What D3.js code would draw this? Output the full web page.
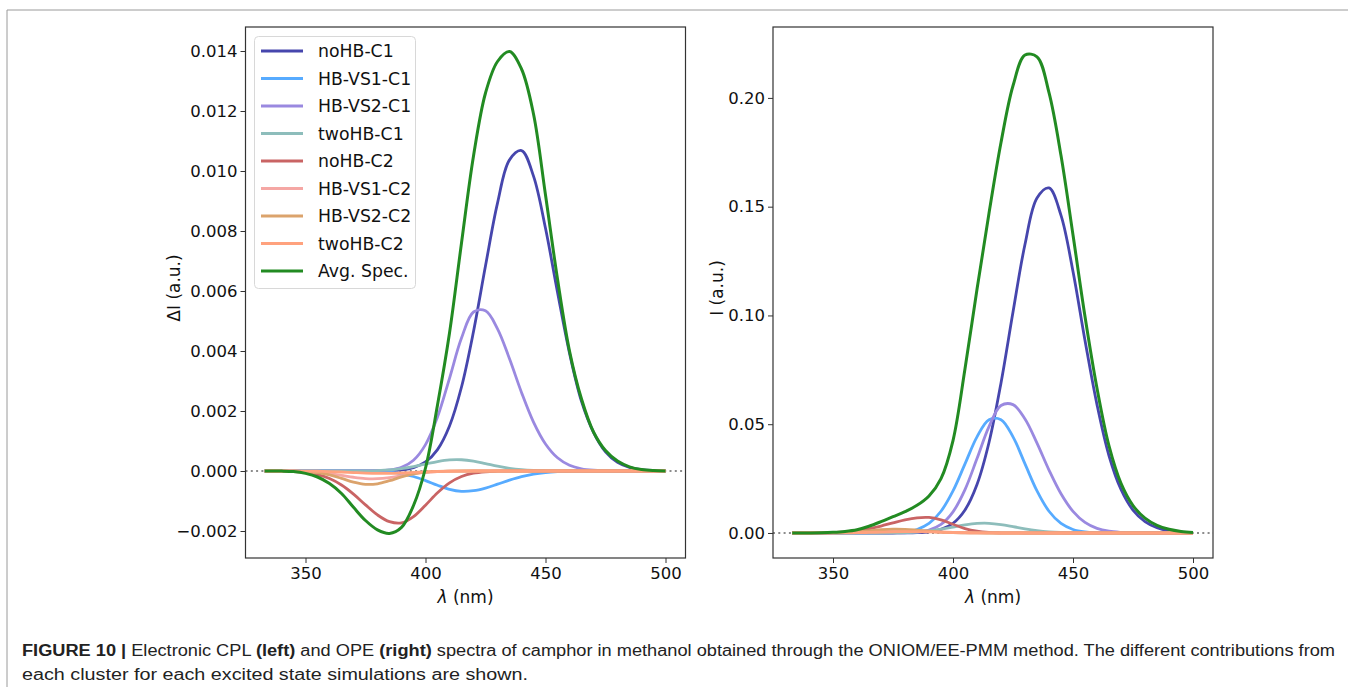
<!DOCTYPE html>
<html>
<head>
  <meta charset="UTF-8">
  <title>CPL and OPE spectra of camphor</title>
  <style>
    body{
        margin: 0;
        background-color: #fff;
    }
    text{
        font-family: "DejaVu Sans", sans-serif;
    }
    .caption text{
        font-family: "Liberation Sans", Arial, sans-serif;
    }
  </style>
</head>
<body>
<svg></svg>
<script src="https://d3js.org/d3.v7.min.js"></script>

<script>

let width = 1348, height = 687;

// wavelength grid (nm)
const wavelength = [333, 340, 345, 350, 355, 360, 365, 370, 375, 380, 385, 390, 395, 400, 405, 410,
    415, 420, 425, 430, 435, 440, 445, 450, 455, 460, 465, 470, 475, 480, 485, 490, 495, 500];

const seriesNames = ["noHB-C1", "HB-VS1-C1", "HB-VS2-C1", "twoHB-C1", "noHB-C2",
    "HB-VS1-C2", "HB-VS2-C2", "twoHB-C2", "Avg. Spec."];
const seriesColors = ["#4646ad", "#57abff", "#9a89e0", "#8dbdbb", "#c96464",
    "#f5a7a4", "#dba36c", "#ffa27e", "#228b22"];

// CPL (left panel), Delta I
const cplNoHBC1 = [0, 0, 0, 0, 0, 0, 0, 0, 0, 0.000003, 0.000011, 0.000038, 0.000113, 0.000301, 0.000714, 0.0015,
    0.0028, 0.00465, 0.00684, 0.00893, 0.01037, 0.01068, 0.00983, 0.00809, 0.00596, 0.00393, 0.00232, 0.00129, 0.00064, 0.00029, 0.00012, 0.000043, 0.000014, 0.000004];
const cplHBVS1C1 = [0, 0, 0, 0, 0, 0, 0, 0, -0.000004, -0.000015, -0.00004, -0.000092, -0.000184, -0.000319, -0.000475, -0.000611,
    -0.000678, -0.000656, -0.000568, -0.00044, -0.000305, -0.000189, -0.000105, -0.000052, -0.000023, -0.000009, -0.000003, 0, 0, 0, 0, 0, 0, 0];
const cplHBVS2C1 = [0, 0, 0, 0, 0, 0, 0, 0, 0.000002, 0.000008, 0.000035, 0.000122, 0.000359, 0.00088, 0.0018, 0.00309,
    0.00443, 0.0053, 0.00534, 0.00474, 0.00374, 0.00262, 0.00163, 0.0009, 0.00044, 0.00019, 0.000074, 0.000025, 0.000008, 0, 0, 0, 0, 0];
const cplTwoHBC1 = [0, 0, 0, 0, 0, 0, 0, 0, 0.000005, 0.000015, 0.000037, 0.00008, 0.000146, 0.00023, 0.000314, 0.00037,
    0.000375, 0.000329, 0.000248, 0.000162, 0.000091, 0.000044, 0.000018, 0.000007, 0.000002, 0, 0, 0, 0, 0, 0, 0, 0, 0];
const cplNoHBC2 = [0, -0.000006, -0.000019, -0.000051, -0.000121, -0.000252, -0.000468, -0.000771, -0.00113, -0.001465, -0.00169, -0.00173, -0.00152, -0.00114, -0.000728, -0.000396,
    -0.000184, -0.000073, -0.000025, -0.000007, 0, 0, 0, 0, 0, 0, 0, 0, 0, 0, 0, 0, 0, 0];
const cplHBVS1C2 = [0, -0.000002, -0.000006, -0.000017, -0.000041, -0.000084, -0.000145, -0.000208, -0.000252, -0.000256, -0.000219, -0.000158, -0.000096, -0.000048, -0.000021, -0.000007,
    -0.000002, 0, 0, 0, 0, 0, 0, 0, 0, 0, 0, 0, 0, 0, 0, 0, 0, 0];
const cplHBVS2C2 = [0, -0.000001, -0.000005, -0.000019, -0.000055, -0.000131, -0.000247, -0.000372, -0.000445, -0.000426, -0.000324, -0.000197, -0.000095, -0.000037, -0.000011, -0.000003,
    0, 0, 0, 0, 0, 0, 0, 0, 0, 0, 0, 0, 0, 0, 0, 0, 0, 0];
const cplTwoHBC2 = [0, 0, 0, -0.000004, -0.000009, -0.000019, -0.000034, -0.000052, -0.000069, -0.000079, -0.000078, -0.000066, -0.000049, -0.000031, -0.000017, -0.000008,
    -0.000003, 0, 0, 0, 0, 0, 0, 0, 0, 0, 0, 0, 0, 0, 0, 0, 0, 0];
const cplAvg = [0, -0.000003, -0.00002, -0.00008, -0.0002, -0.00042, -0.00075, -0.00121, -0.00165, -0.00196, -0.00208, -0.00188, -0.00115, 0.0001, 0.0022, 0.0046,
    0.0076, 0.0105, 0.0126, 0.01365, 0.01398, 0.0134, 0.0119, 0.0092, 0.0064, 0.004, 0.0024, 0.0013, 0.00068, 0.00033, 0.00014, 0.00005, 0.000015, 0.000004];

// OPE (right panel), I
const opeNoHBC1 = [0, 0, 0, 0, 0, 0, 0, 0, 0, 0.00004, 0.00017, 0.00056, 0.00168, 0.00447, 0.0106, 0.0223,
    0.0416, 0.069, 0.1016, 0.1327, 0.154, 0.1586, 0.146, 0.1202, 0.0885, 0.059, 0.0355, 0.02, 0.0105, 0.0052, 0.0024, 0.001, 0.0004, 0.00015];
const opeHBVS1C1 = [0, 0, 0, 0, 0, 0, 0, 0.00003, 0.00014, 0.00051, 0.00162, 0.00437, 0.00999, 0.01934, 0.03176, 0.04417,
    0.0521, 0.0521, 0.04417, 0.03176, 0.01934, 0.00999, 0.00437, 0.00162, 0.00051, 0.00014, 0.00003, 0, 0, 0, 0, 0, 0, 0];
const opeHBVS2C1 = [0, 0, 0, 0, 0, 0, 0, 0, 0.00002, 0.00009, 0.00038, 0.00135, 0.00397, 0.00973, 0.01995, 0.0342,
    0.0489, 0.0586, 0.059, 0.0524, 0.0413, 0.0289, 0.018, 0.00992, 0.00486, 0.00211, 0.00081, 0.00028, 0.00009, 0.00002, 0, 0, 0, 0];
const opeTwoHBC1 = [0, 0, 0, 0, 0, 0, 0, 0, 0.00006, 0.00018, 0.00044, 0.00094, 0.00172, 0.00273, 0.00372, 0.00438,
    0.00445, 0.00389, 0.00294, 0.00191, 0.00108, 0.00052, 0.00022, 0.00008, 0.00002, 0, 0, 0, 0, 0, 0, 0, 0, 0];
const opeNoHBC2 = [0, 0.00003, 0.00008, 0.00021, 0.0005, 0.00104, 0.00194, 0.00319, 0.00467, 0.00606, 0.00699, 0.00715, 0.006, 0.004, 0.002, 0.0008,
    0.00025, 0.00008, 0.00002, 0, 0, 0, 0, 0, 0, 0, 0, 0, 0, 0, 0, 0, 0, 0];
const opeHBVS1C2 = [0, 0.00001, 0.00002, 0.00008, 0.00019, 0.00039, 0.00067, 0.00096, 0.00116, 0.00118, 0.00101, 0.00073, 0.00044, 0.00022, 0.0001, 0.00003,
    0.00001, 0, 0, 0, 0, 0, 0, 0, 0, 0, 0, 0, 0, 0, 0, 0, 0, 0];
const opeHBVS2C2 = [0, 0, 0.00002, 0.000075, 0.00022, 0.00052, 0.00099, 0.00149, 0.00178, 0.0017, 0.0013, 0.00079, 0.00038, 0.00015, 0.00005, 0.00001,
    0, 0, 0, 0, 0, 0, 0, 0, 0, 0, 0, 0, 0, 0, 0, 0, 0, 0];
const opeTwoHBC2 = [0, 0, 0.00001, 0.00003, 0.00007, 0.00014, 0.00026, 0.00039, 0.00052, 0.00059, 0.00058, 0.0005, 0.00036, 0.00023, 0.00013, 0.00006,
    0.00002, 0, 0, 0, 0, 0, 0, 0, 0, 0, 0, 0, 0, 0, 0, 0, 0, 0];
const opeAvg = [0, 0.00003, 0.0001, 0.0003, 0.0007, 0.0015, 0.0031, 0.0052, 0.0075, 0.0098, 0.0127, 0.017, 0.025, 0.0425, 0.0755, 0.112,
    0.147, 0.1795, 0.2056, 0.2197, 0.2189, 0.2024, 0.1735, 0.137, 0.0995, 0.0665, 0.040, 0.0228, 0.0126, 0.0068, 0.0035, 0.0017, 0.0007, 0.0002];

const xTicks = [350, 400, 450, 500];
const cplTicks = [-0.002, 0, 0.002, 0.004, 0.006, 0.008, 0.010, 0.012, 0.014];
const opeTicks = [0, 0.05, 0.10, 0.15, 0.20];

const captionLine1 = ["FIGURE 10 | ", "Electronic CPL ", "(left)", " and OPE ", "(right)",
    " spectra of camphor in methanol obtained through the ONIOM/EE-PMM method. The different contributions from"];
const captionLine2 = "each cluster for each excited state simulations are shown.";

let svg = d3.select("svg")
    .attr("width", width)
    .attr("height", height)
    .attr("viewBox", "0 0 " + width + " " + height);

// page frame lines
svg.append("line").attr("x1", 7).attr("y1", 10).attr("x2", width).attr("y2", 10)
    .attr("stroke", "#9a9a9a").attr("stroke-width", 1);
svg.append("line").attr("x1", 7).attr("y1", 10).attr("x2", 7).attr("y2", height)
    .attr("stroke", "#9a9a9a").attr("stroke-width", 1);

function drawPanel(opts) {
    let x = d3.scaleLinear().domain([325, 508.33]).range(opts.xRange);
    let y = d3.scaleLinear().domain(opts.yDomain).range([558, 27]);

    let g = svg.append("g");

    // dotted zero line
    g.append("line")
        .attr("x1", x.range()[0]).attr("x2", x.range()[1])
        .attr("y1", y(0)).attr("y2", y(0))
        .attr("stroke", "#8c8c8c")
        .attr("stroke-width", 2)
        .attr("stroke-dasharray", "2,3.3");

    let line = d3.line()
        .x((d, i) => x(wavelength[i]))
        .y(d => y(d))
        .curve(d3.curveCatmullRom.alpha(0.5));

    g.selectAll("path.spec")
        .data(opts.series)
        .enter()
        .append("path")
        .attr("class", "spec")
        .attr("d", d => line(d))
        .attr("fill", "none")
        .attr("stroke", (d, i) => seriesColors[i])
        .attr("stroke-width", (d, i) => i === 8 ? 3 : 2.8)
        .attr("stroke-linejoin", "round");

    // frame
    g.append("rect")
        .attr("x", x.range()[0]).attr("y", 27)
        .attr("width", x.range()[1] - x.range()[0]).attr("height", 531)
        .attr("fill", "none").attr("stroke", "#333").attr("stroke-width", 1.2);

    let xa = g.append("g")
        .attr("transform", "translate(0,558)")
        .call(d3.axisBottom(x).tickValues(xTicks).tickSize(5).tickPadding(4).tickFormat(d3.format("d")));
    xa.select(".domain").remove();
    xa.selectAll("text").attr("font-size", 16.5).attr("font-family", "DejaVu Sans").attr("fill", "#111");
    xa.selectAll("line").attr("stroke", "#333");

    let ya = g.append("g")
        .attr("transform", "translate(" + x.range()[0] + ",0)")
        .call(d3.axisLeft(y).tickValues(opts.yTicks).tickSize(5).tickPadding(3).tickFormat(d3.format(opts.yFormat)));
    ya.select(".domain").remove();
    ya.selectAll("text").attr("font-size", 16.5).attr("font-family", "DejaVu Sans").attr("fill", "#111");
    ya.selectAll("line").attr("stroke", "#333");

    // axis labels
    let xl = g.append("text")
        .attr("x", (x.range()[0] + x.range()[1]) / 2)
        .attr("y", 603)
        .attr("text-anchor", "middle")
        .attr("font-size", 17)
        .attr("fill", "#111");
    xl.append("tspan").attr("font-style", "italic").text("λ");
    xl.append("tspan").text(" (nm)");

    g.append("text")
        .attr("transform", "translate(" + opts.yLabelX + ",288) rotate(-90)")
        .attr("text-anchor", "middle")
        .attr("font-size", 17)
        .attr("fill", "#111")
        .text(opts.yLabel);

    return {x: x, y: y, g: g};
}

drawPanel({
    xRange: [245.5, 685.5],
    yDomain: [-0.0029, 0.0148],
    yTicks: cplTicks,
    yFormat: ".3f",
    yLabel: "ΔI (a.u.)",
    yLabelX: 180,
    series: [cplNoHBC1, cplHBVS1C1, cplHBVS2C1, cplTwoHBC1, cplNoHBC2, cplHBVS1C2, cplHBVS2C2, cplTwoHBC2, cplAvg]
});

drawPanel({
    xRange: [773, 1213],
    yDomain: [-0.0115, 0.2326],
    yTicks: opeTicks,
    yFormat: ".2f",
    yLabel: "I (a.u.)",
    yLabelX: 723,
    series: [opeNoHBC1, opeHBVS1C1, opeHBVS2C1, opeTwoHBC1, opeNoHBC2, opeHBVS1C2, opeHBVS2C2, opeTwoHBC2, opeAvg]
});

// legend on the left panel
let legend = svg.append("g").attr("class", "legend");
legend.append("rect")
    .attr("x", 254.5).attr("y", 36.5)
    .attr("width", 161).attr("height", 252)
    .attr("rx", 4)
    .attr("fill", "#fff").attr("fill-opacity", 0.85)
    .attr("stroke", "#d8d8d8").attr("stroke-width", 1);

let rows = legend.selectAll("g.row")
    .data(seriesNames)
    .enter().append("g")
    .attr("class", "row")
    .attr("transform", (d, i) => "translate(0," + (51 + i * 27.5) + ")");
rows.append("line")
    .attr("x1", 261).attr("x2", 303)
    .attr("stroke", (d, i) => seriesColors[i])
    .attr("stroke-width", 3);
rows.append("text")
    .attr("x", 318).attr("y", 6)
    .attr("font-size", 17.3)
    .attr("fill", "#111")
    .text(d => d);

// caption
let cap = svg.append("g").attr("class", "caption");
let t1 = cap.append("text")
    .attr("x", 22).attr("y", 656)
    .attr("font-size", 16)
    .attr("fill", "#222")
    .attr("textLength", 1313)
    .attr("lengthAdjust", "spacingAndGlyphs");
captionLine1.forEach((s, i) => {
    t1.append("tspan")
        .attr("font-weight", (i === 0 || i === 2 || i === 4) ? "bold" : "normal")
        .text(s);
});
cap.append("text")
    .attr("x", 22).attr("y", 680)
    .attr("font-size", 16)
    .attr("fill", "#222")
    .attr("textLength", 506)
    .attr("lengthAdjust", "spacingAndGlyphs")
    .text(captionLine2);

</script>

</body>
</html>
